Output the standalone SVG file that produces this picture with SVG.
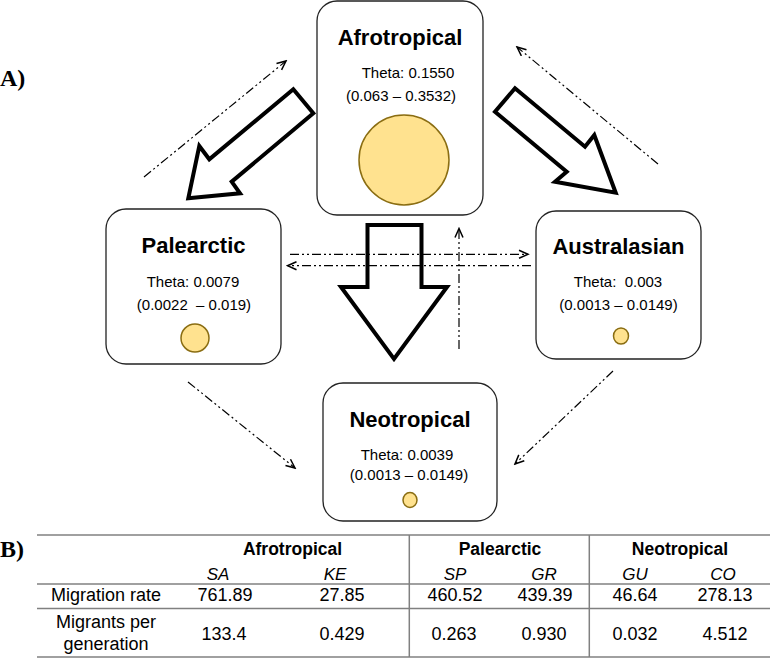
<svg xmlns="http://www.w3.org/2000/svg" width="770" height="658" viewBox="0 0 770 658">
<style>
.box{fill:#fff;stroke:#222;stroke-width:1.3}
.title{font-family:"Liberation Sans",Arial,sans-serif;font-size:22px;font-weight:bold;text-anchor:middle;fill:#000}
.th{font-family:"Liberation Sans",Arial,sans-serif;font-size:15px;text-anchor:middle;fill:#000}
.pop{fill:#FFE28F;stroke:#8A6D12;stroke-width:1.5}
.big{fill:#fff;stroke:#000;stroke-width:4;stroke-linejoin:miter}
.dd{fill:none;stroke:#000;stroke-width:1.2;stroke-dasharray:9 3 2 3 2 3}
.lab{font-family:"Liberation Serif","Times New Roman",serif;font-size:24px;font-weight:bold;fill:#000}
.tt{font-family:"Liberation Sans",Arial,sans-serif;font-size:18px;text-anchor:middle;fill:#000}
.tb{font-family:"Liberation Sans",Arial,sans-serif;font-size:17.5px;font-weight:bold;text-anchor:middle;fill:#000}
.ti{font-family:"Liberation Sans",Arial,sans-serif;font-size:17px;font-style:italic;text-anchor:middle;fill:#000}
.rule{stroke:#808080;stroke-width:1.5}
</style>
<defs>
<marker id="open" markerUnits="userSpaceOnUse" markerWidth="12" markerHeight="12" refX="10" refY="5" orient="auto">
<path d="M1,1 L10,5 L1,9" fill="none" stroke="#000" stroke-width="1.5"/>
</marker>
<linearGradient id="fadeH" gradientUnits="userSpaceOnUse" x1="287" y1="0" x2="531" y2="0">
<stop offset="0" stop-color="#000"/>
<stop offset="0.25" stop-color="#000"/>
<stop offset="0.32" stop-color="#ccc"/>
<stop offset="0.72" stop-color="#ccc"/>
<stop offset="0.8" stop-color="#000"/>
<stop offset="1" stop-color="#000"/>
</linearGradient>
</defs>

<text class="lab" x="0" y="86">A)</text>

<g id="afrotropical">
<rect class="box" x="317" y="1" width="166" height="214" rx="20"/>
<text class="title" x="400" y="45">Afrotropical</text>
<text class="th" x="408" y="78">Theta: 0.1550</text>
<text class="th" x="401" y="101">(0.063 – 0.3532)</text>
<circle class="pop" cx="404" cy="160" r="45"/>
</g>

<g id="palearctic">
<rect class="box" x="106" y="209" width="175" height="155" rx="20"/>
<text class="title" x="193.5" y="253">Palearctic</text>
<text class="th" x="193" y="287">Theta: 0.0079</text>
<text class="th" x="194" y="310" xml:space="preserve">(0.0022  – 0.019)</text>
<circle class="pop" cx="195" cy="338" r="14"/>
</g>

<g id="australasian">
<rect class="box" x="536" y="211" width="165" height="148" rx="20"/>
<text class="title" x="618.5" y="254">Australasian</text>
<text class="th" x="618" y="287" xml:space="preserve">Theta:  0.003</text>
<text class="th" x="618.5" y="310">(0.0013 – 0.0149)</text>
<ellipse class="pop" cx="621" cy="336" rx="7.5" ry="8"/>
</g>

<g id="neotropical">
<rect class="box" x="323" y="383" width="174" height="138" rx="20"/>
<text class="title" x="410" y="427">Neotropical</text>
<text class="th" x="407" y="460">Theta: 0.0039</text>
<text class="th" x="409" y="480">(0.0013 – 0.0149)</text>
<ellipse class="pop" cx="410" cy="500" rx="7" ry="7.5"/>
</g>

<g id="connectors">
<path class="big" d="M293.3,89.3 L313.3,113.3 L231.7,181.7 L240,193.3 L188.3,198.3 L199.3,146 L209.3,159.3 Z"/>
<path class="big" d="M515,88.3 L495,111.7 L566.7,171.7 L555,181.7 L615.7,192.7 L594.3,135 L585,146.7 Z"/>
<path class="big" d="M367.5,225 H421.5 V287 H447 L394,359 L341,287 H367.5 Z"/>
<line class="dd" x1="144" y1="177" x2="286" y2="61" marker-end="url(#open)"/>
<line class="dd" x1="658" y1="164" x2="517" y2="47" marker-end="url(#open)"/>
<line class="dd" x1="290" y1="254.3" x2="528" y2="254.3" stroke="url(#fadeH)" marker-end="url(#open)"/>
<line class="dd" x1="531" y1="265.7" x2="287.5" y2="265.7" stroke="url(#fadeH)" marker-end="url(#open)"/>
<line class="dd" x1="459" y1="349" x2="459" y2="228.5" marker-end="url(#open)"/>
<line class="dd" x1="188" y1="382" x2="295" y2="468" marker-end="url(#open)"/>
<line class="dd" x1="613" y1="371" x2="515" y2="464" marker-end="url(#open)"/>
</g>

<text class="lab" x="0" y="557">B)</text>

<g id="table">
<line class="rule" x1="37" y1="535" x2="770" y2="535"/>
<line class="rule" x1="37" y1="584" x2="770" y2="584"/>
<line class="rule" x1="37" y1="608.5" x2="770" y2="608.5"/>
<line class="rule" x1="37" y1="657" x2="770" y2="657"/>
<line class="rule" x1="409.3" y1="535" x2="409.3" y2="657"/>
<line class="rule" x1="589.3" y1="535" x2="589.3" y2="657"/>

<text class="tb" x="292.5" y="555">Afrotropical</text>
<text class="tb" x="500" y="555">Palearctic</text>
<text class="tb" x="680" y="555">Neotropical</text>

<text class="ti" x="218" y="580">SA</text>
<text class="ti" x="335" y="580">KE</text>
<text class="ti" x="455" y="580">SP</text>
<text class="ti" x="544" y="580">GR</text>
<text class="ti" x="635" y="580">GU</text>
<text class="ti" x="723" y="580">CO</text>

<text class="tt" x="106" y="601">Migration rate</text>
<text class="tt" x="225" y="601">761.89</text>
<text class="tt" x="342" y="601">27.85</text>
<text class="tt" x="455" y="601">460.52</text>
<text class="tt" x="545" y="601">439.39</text>
<text class="tt" x="635" y="601">46.64</text>
<text class="tt" x="725" y="601">278.13</text>

<text class="tt" x="106" y="628">Migrants per</text>
<text class="tt" x="106" y="650">generation</text>
<text class="tt" x="224" y="640">133.4</text>
<text class="tt" x="342" y="640">0.429</text>
<text class="tt" x="454" y="640">0.263</text>
<text class="tt" x="544" y="640">0.930</text>
<text class="tt" x="635" y="640">0.032</text>
<text class="tt" x="725" y="640">4.512</text>
</g>
</svg>
